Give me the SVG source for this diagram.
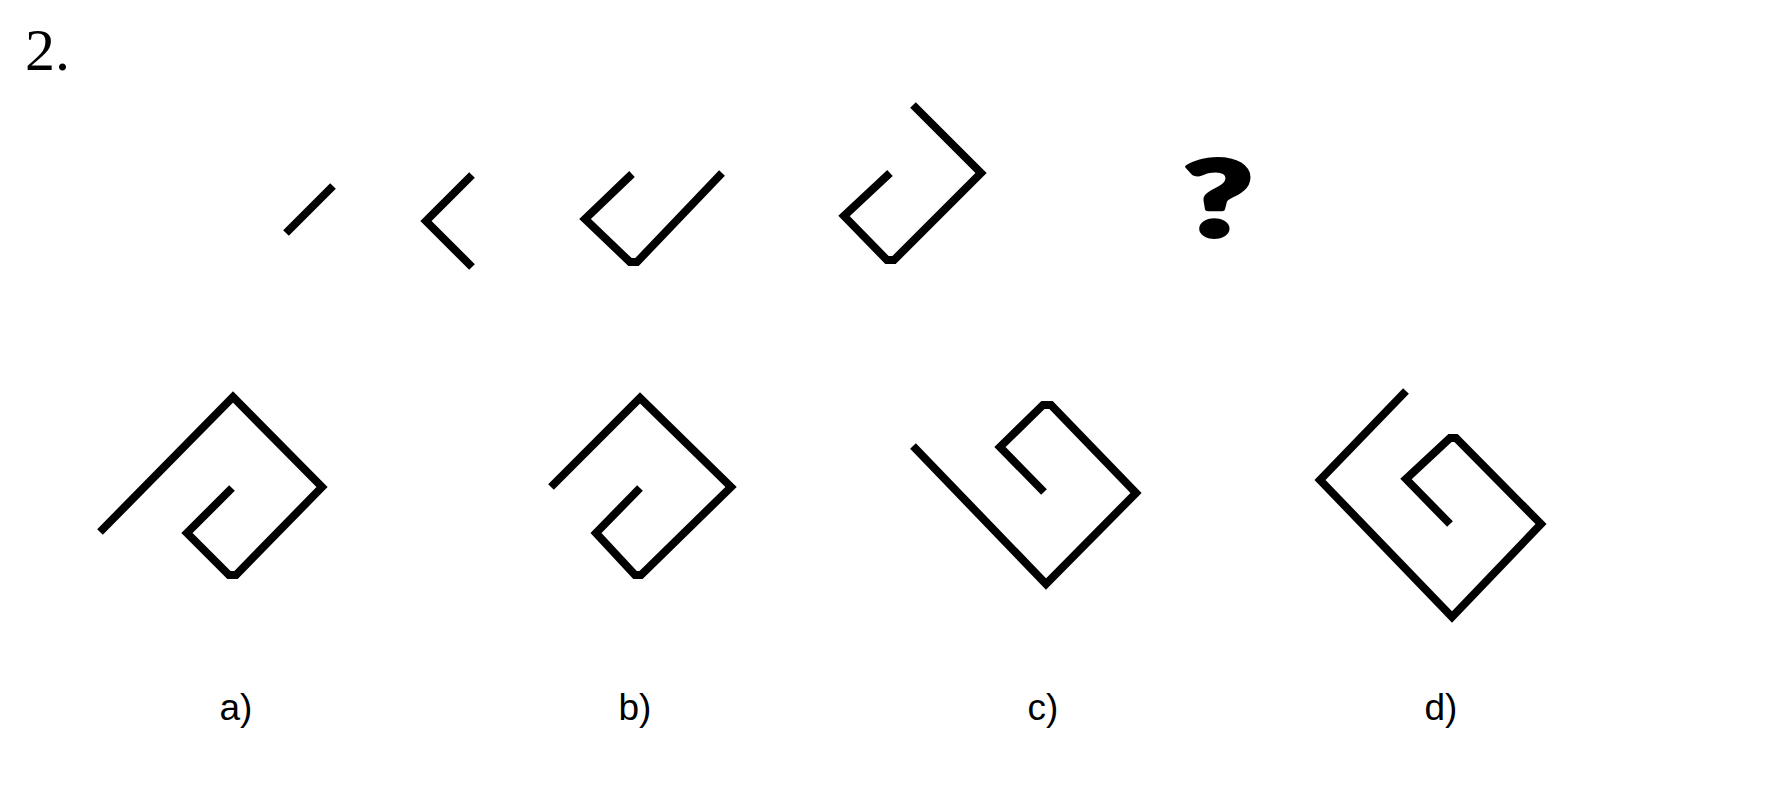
<svg xmlns="http://www.w3.org/2000/svg" width="1772" height="810" viewBox="0 0 1772 810">
<style>
.fig{fill:none;stroke:#000;stroke-width:8;stroke-linejoin:miter;stroke-linecap:butt}
.lbl{font-family:"Liberation Sans",Arial,sans-serif;font-size:37px;fill:#000;text-anchor:middle}
</style>
<rect width="1772" height="810" fill="#fff"/>
<text id="title" x="25" y="70" font-family="Liberation Serif,serif" font-size="60" fill="#000">2.</text>
<g id="seq1"><polyline class="fig" points="286,233 333,186"/></g>
<g id="seq2"><polyline class="fig" points="472,175 426,221 472,267"/></g>
<g id="seq3"><polyline class="fig" points="632,174 585,219 630,262 637,262 722,173"/></g>
<g id="seq4"><polyline class="fig" points="890,173 844,216 887,260 894,260 981,173 913,105"/></g>
<g id="question"><text transform="translate(1218,236) scale(1.45,1)" x="0" y="0" font-family="Lato,sans-serif" font-weight="900" font-size="104" text-anchor="middle" fill="#000" stroke="#000" stroke-width="4" stroke-linejoin="round">?</text></g>
<g id="optA"><polyline class="fig" points="100,532 233,397 322,487 236,575 229,575 187,533 232,488"/><text class="lbl" x="236" y="720">a)</text></g>
<g id="optB"><polyline class="fig" points="551,487 640,398 731,487 641,575 635,575 596,533 640,488"/><text class="lbl" x="635" y="720">b)</text></g>
<g id="optC"><polyline class="fig" points="913,446 1046,584 1136,493 1051,405 1043,405 1000,447 1044,492"/><text class="lbl" x="1043" y="720">c)</text></g>
<g id="optD"><polyline class="fig" points="1406,391 1320,480 1452,617 1541,524 1456,438 1450,438 1406,479 1450,524"/><text class="lbl" x="1441" y="720">d)</text></g>
</svg>
